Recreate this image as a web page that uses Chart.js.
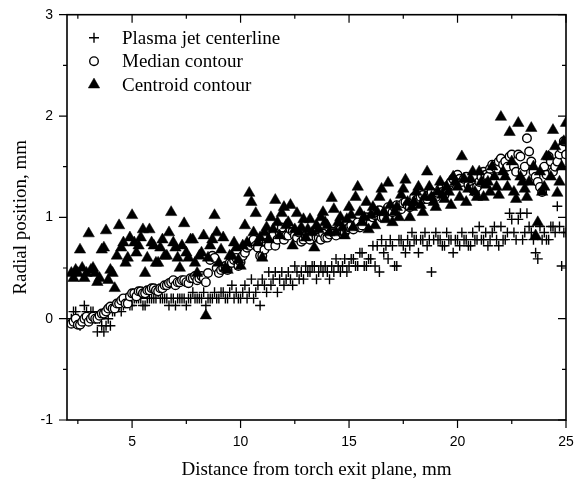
<!DOCTYPE html>
<html>
<head>
<meta charset="utf-8">
<script src="https://cdn.jsdelivr.net/npm/chart.js@4.4.1/dist/chart.umd.min.js"></script>
<style>
  body { margin: 0; background: #fff; }
  #wrap { width: 579px; height: 487px; }
</style>
</head>
<body>
<div id="wrap"><canvas id="radialChart"></canvas></div>
<script>
// distance from torch exit plane, mm
const distance = [
  2.2, 2.3, 2.4, 2.5, 2.6, 2.7, 2.8, 2.9, 3.0, 3.1,
  3.2, 3.3, 3.4, 3.5, 3.6, 3.7, 3.8, 3.9, 4.0, 4.1,
  4.2, 4.3, 4.4, 4.5, 4.6, 4.7, 4.8, 4.9, 5.0, 5.1,
  5.2, 5.3, 5.4, 5.5, 5.6, 5.7, 5.8, 5.9, 6.0, 6.1,
  6.2, 6.3, 6.4, 6.5, 6.6, 6.7, 6.8, 6.9, 7.0, 7.1,
  7.2, 7.3, 7.4, 7.5, 7.6, 7.7, 7.8, 7.9, 8.0, 8.1,
  8.2, 8.3, 8.4, 8.5, 8.6, 8.7, 8.8, 8.9, 9.0, 9.1,
  9.2, 9.3, 9.4, 9.5, 9.6, 9.7, 9.8, 9.9, 10.0, 10.1,
  10.2, 10.3, 10.4, 10.5, 10.6, 10.7, 10.8, 10.9, 11.0, 11.1,
  11.2, 11.3, 11.4, 11.5, 11.6, 11.7, 11.8, 11.9, 12.0, 12.1,
  12.2, 12.3, 12.4, 12.5, 12.6, 12.7, 12.8, 12.9, 13.0, 13.1,
  13.2, 13.3, 13.4, 13.5, 13.6, 13.7, 13.8, 13.9, 14.0, 14.1,
  14.2, 14.3, 14.4, 14.5, 14.6, 14.7, 14.8, 14.9, 15.0, 15.1,
  15.2, 15.3, 15.4, 15.5, 15.6, 15.7, 15.8, 15.9, 16.0, 16.1,
  16.2, 16.3, 16.4, 16.5, 16.6, 16.7, 16.8, 16.9, 17.0, 17.1,
  17.2, 17.3, 17.4, 17.5, 17.6, 17.7, 17.8, 17.9, 18.0, 18.1,
  18.2, 18.3, 18.4, 18.5, 18.6, 18.7, 18.8, 18.9, 19.0, 19.1,
  19.2, 19.3, 19.4, 19.5, 19.6, 19.7, 19.8, 19.9, 20.0, 20.1,
  20.2, 20.3, 20.4, 20.5, 20.6, 20.7, 20.8, 20.9, 21.0, 21.1,
  21.2, 21.3, 21.4, 21.5, 21.6, 21.7, 21.8, 21.9, 22.0, 22.1,
  22.2, 22.3, 22.4, 22.5, 22.6, 22.7, 22.8, 22.9, 23.0, 23.1,
  23.2, 23.3, 23.4, 23.5, 23.6, 23.7, 23.8, 23.9, 24.0, 24.1,
  24.2, 24.3, 24.4, 24.5, 24.6, 24.7, 24.8, 24.9, 25.0
];

// radial position, mm
const centerline = [
  0.0, 0.07, 0.07, 0.0, -0.07, 0.0, 0.13, 0.07, 0.0, 0.07,
  0.07, 0.0, -0.13, 0.0, -0.07, -0.13, -0.07, 0.0, -0.07, 0.07,
  0.07, 0.13, 0.13, 0.07, 0.13, 0.2, 0.2, 0.13, 0.13, 0.2,
  0.2, 0.2, 0.2, 0.13, 0.13, 0.2, 0.2, 0.2, 0.2, 0.2,
  0.26, 0.2, 0.2, 0.2, 0.2, 0.13, 0.2, 0.2, 0.13, 0.2,
  0.2, 0.2, 0.2, 0.13, 0.2, 0.2, 0.26, 0.2, 0.2, 0.2,
  0.2, 0.26, 0.13, 0.2, 0.2, 0.2, 0.26, 0.2, 0.2, 0.26,
  0.26, 0.2, 0.2, 0.26, 0.33, 0.2, 0.26, 0.2, 0.2, 0.26,
  0.33, 0.2, 0.26, 0.39, 0.2, 0.26, 0.33, 0.13, 0.39, 0.33,
  0.26, 0.46, 0.33, 0.39, 0.46, 0.26, 0.39, 0.46, 0.33, 0.39,
  0.46, 0.39, 0.33, 0.52, 0.46, 0.39, 0.46, 0.39, 0.52, 0.46,
  0.46, 0.52, 0.52, 0.39, 0.46, 0.52, 0.46, 0.52, 0.46, 0.39,
  0.52, 0.46, 0.59, 0.52, 0.46, 0.52, 0.59, 0.46, 0.52, 0.59,
  0.59, 0.52, 0.52, 0.65, 0.65, 0.52, 0.52, 0.59, 0.59, 0.72,
  0.52, 0.72, 0.46, 0.78, 0.65, 0.72, 0.59, 0.78, 0.72, 0.52,
  0.52, 0.78, 0.78, 0.72, 0.65, 0.78, 0.72, 0.85, 0.78, 0.78,
  0.65, 0.78, 0.78, 0.85, 0.72, 0.78, 0.46, 0.78, 0.85, 0.78,
  0.78, 0.72, 0.72, 0.85, 0.78, 0.78, 0.65, 0.78, 0.78, 0.72,
  0.85, 0.78, 0.78, 0.72, 0.72, 0.85, 0.78, 0.78, 0.91, 0.78,
  0.78, 0.85, 0.72, 0.78, 0.85, 0.91, 0.78, 0.72, 0.91, 0.78,
  0.78, 0.85, 1.04, 0.98, 0.85, 0.78, 0.98, 1.04, 0.78, 0.85,
  1.04, 0.91, 0.85, 0.78, 0.65, 0.59, 0.91, 0.78, 0.85, 0.78,
  0.78, 0.91, 0.91, 0.85, 1.11, 0.91, 0.52, 0.85, 0.85
];

const median = [
  -0.05, -0.03, 0.0, -0.06, -0.06, -0.03, 0.0, 0.02, -0.03, 0.0,
  0.02, 0.0, 0.0, 0.03, 0.05, 0.05, 0.07, 0.1, 0.12, 0.1,
  0.1, 0.15, 0.15, 0.18, 0.2, 0.15, 0.15, 0.22, 0.25, 0.25,
  0.22, 0.27, 0.27, 0.25, 0.25, 0.28, 0.28, 0.3, 0.3, 0.28,
  0.27, 0.3, 0.3, 0.33, 0.33, 0.35, 0.36, 0.38, 0.33, 0.36,
  0.36, 0.38, 0.38, 0.36, 0.35, 0.4, 0.4, 0.42, 0.38, 0.4,
  0.42, 0.4, 0.36, 0.45, 0.58, 0.62, 0.6, 0.5, 0.45, 0.48,
  0.5, 0.52, 0.48, 0.55, 0.55, 0.58, 0.6, 0.52, 0.56, 0.62,
  0.65, 0.7, 0.72, 0.75, 0.78, 0.72, 0.7, 0.62, 0.62, 0.68,
  0.75, 0.72, 0.8, 0.82, 0.72, 0.78, 0.85, 0.9, 0.78, 0.82,
  0.82, 0.88, 0.86, 0.82, 0.8, 0.85, 0.76, 0.78, 0.82, 0.8,
  0.78, 0.82, 0.85, 0.8, 0.8, 0.78, 0.84, 0.8, 0.8, 0.83,
  0.86, 0.84, 0.82, 0.88, 0.88, 0.84, 0.85, 0.88, 0.9, 0.92,
  0.88, 0.92, 0.95, 0.9, 0.92, 0.98, 1.0, 0.96, 0.95, 1.0,
  1.02, 1.05, 1.07, 1.0, 1.0, 1.05, 1.1, 1.08, 1.05, 1.1,
  1.12, 1.08, 1.08, 1.14, 1.15, 1.12, 1.1, 1.15, 1.2, 1.17,
  1.15, 1.2, 1.22, 1.18, 1.18, 1.22, 1.25, 1.2, 1.2, 1.24,
  1.28, 1.25, 1.22, 1.3, 1.32, 1.35, 1.38, 1.4, 1.42, 1.38,
  1.35, 1.38, 1.4, 1.32, 1.3, 1.28, 1.25, 1.3, 1.35, 1.4,
  1.45, 1.42, 1.4, 1.48, 1.52, 1.5, 1.48, 1.55, 1.58, 1.52,
  1.55, 1.5, 1.6, 1.62, 1.5, 1.45, 1.62, 1.6, 1.45, 1.5,
  1.78, 1.65, 1.55, 1.45, 1.4, 1.35, 1.3, 1.25, 1.5, 1.42,
  1.6, 1.55, 1.45, 1.5, 1.55, 1.62, 1.68, 1.75, 1.62
];

const centroid = [
  0.45, 0.4, 0.48, 0.45, 0.68, 0.5, 0.4, 0.45, 0.84, 0.48,
  0.5, 0.45, 0.36, 0.4, 0.68, 0.7, 0.87, 0.38, 0.48, 0.45,
  0.3, 0.62, 0.92, 0.7, 0.75, 0.55, 0.6, 0.8, 1.02, 0.75,
  0.65, 0.72, 0.8, 0.88, 0.45, 0.6, 0.88, 0.75, 0.72, 0.55,
  0.55, 0.7, 0.78, 0.62, 0.62, 0.85, 1.05, 0.75, 0.7, 0.6,
  0.5, 0.72, 0.94, 0.65, 0.6, 0.78, 0.78, 0.55, 0.45, 0.62,
  0.65, 0.82, 0.03, 0.6, 0.72, 0.78, 1.02, 0.85, 0.55, 0.68,
  0.8, 0.5, 0.48, 0.62, 0.62, 0.75, 0.7, 0.58, 0.52, 0.72,
  0.92, 0.75, 1.24, 1.15, 0.85, 1.04, 0.75, 0.8, 0.6, 0.85,
  0.9, 0.78, 1.0, 0.88, 1.17, 0.95, 0.82, 1.04, 1.1, 0.92,
  0.95, 1.12, 0.72, 0.88, 1.04, 0.85, 0.9, 0.98, 0.8, 0.88,
  0.98, 0.85, 0.7, 0.92, 0.88, 1.0, 1.05, 0.95, 0.92, 0.85,
  1.19, 1.08, 0.85, 0.95, 1.0, 0.9, 0.82, 0.98, 1.1, 1.02,
  0.9, 1.2, 1.3, 1.05, 0.95, 1.0, 1.15, 0.88, 1.02, 1.1,
  0.92, 1.05, 1.2, 1.28, 1.05, 0.98, 1.34, 1.12, 0.95, 1.05,
  1.1, 1.0, 1.22, 1.28, 1.37, 1.15, 1.0, 1.1, 1.15, 1.25,
  1.3, 1.12, 1.05, 1.2, 1.45, 1.3, 1.2, 1.15, 1.1, 1.25,
  1.35, 1.22, 1.18, 1.3, 1.25, 1.12, 1.4, 1.35, 1.3, 1.2,
  1.6, 1.38, 1.15, 1.28, 1.38, 1.45, 1.25, 1.2, 1.45, 1.35,
  1.2, 1.32, 1.35, 1.25, 1.5, 1.4, 1.3, 1.22, 1.99, 1.45,
  1.4, 1.3, 1.84, 1.55, 1.25, 1.18, 1.93, 1.4, 1.35, 1.28,
  1.2, 1.35, 1.88, 1.5, 0.82, 0.95, 1.45, 1.25, 1.3, 1.6,
  1.6, 1.4, 1.86, 1.7, 1.24, 1.35, 1.5, 1.75, 1.93
];

const seriesNames = ['Plasma jet centerline', 'Median contour', 'Centroid contour'];
const xTicks = [5, 10, 15, 20, 25];
const yTicks = [-1, 0, 1, 2, 3];

const serif = "'Liberation Serif', 'Times New Roman', serif";
const sans = "'Liberation Sans', Arial, sans-serif";

function toPoints(ys) {
  return distance.map((x, i) => ({ x: x, y: ys[i] }));
}

// box around the plot with outward ticks on left/bottom, inward on top/right
const frameBox = {
  id: 'frameBox',
  afterDatasetsDraw(chart) {
    const { ctx, chartArea: a } = chart;
    const xs = chart.scales.x, ys = chart.scales.y;
    ctx.save();
    ctx.strokeStyle = '#000';
    ctx.lineWidth = 1.6;
    ctx.strokeRect(a.left, a.top, a.right - a.left, a.bottom - a.top);
    ctx.lineWidth = 1.2;
    ctx.beginPath();
    for (let v = 2.5; v <= 25; v += 2.5) {
      const px = xs.getPixelForValue(v);
      const len = v % 5 === 0 ? 8 : 4;
      ctx.moveTo(px, a.bottom); ctx.lineTo(px, a.bottom + len);
      ctx.moveTo(px, a.top); ctx.lineTo(px, a.top + len);
    }
    for (let v = -1; v <= 3; v += 0.5) {
      const py = ys.getPixelForValue(v);
      const len = v % 1 === 0 ? 8 : 4;
      ctx.moveTo(a.left, py); ctx.lineTo(a.left - len, py);
      ctx.moveTo(a.right, py); ctx.lineTo(a.right - len, py);
    }
    ctx.stroke();
    ctx.restore();
  },
  afterDraw(chart) {
    // legend in the upper left corner of the plot
    const { ctx, chartArea: a } = chart;
    ctx.save();
    ctx.font = '19px ' + serif;
    ctx.textBaseline = 'middle';
    ctx.textAlign = 'left';
    chart.data.datasets.forEach((ds, i) => {
      const y = a.top + 23 + i * 23.5;
      ctx.fillStyle = ds.backgroundColor;
      ctx.strokeStyle = ds.borderColor;
      ctx.lineWidth = ds.borderWidth;
      Chart.helpers.drawPoint(ctx, {
        pointStyle: ds.pointStyle,
        radius: ds.pointRadius,
        borderWidth: ds.borderWidth,
        rotation: 0
      }, a.left + 27, y);
      ctx.fillStyle = '#000';
      ctx.fillText(seriesNames[i], a.left + 55, y + 1);
    });
    ctx.restore();
  }
};

new Chart(document.getElementById('radialChart'), {
  type: 'scatter',
  data: {
    datasets: [{
      label: seriesNames[0],
      data: toPoints(centerline),
      pointStyle: 'cross',
      pointRadius: 5,
      borderWidth: 1.4,
      borderColor: '#000',
      backgroundColor: '#000',
      order: 2
    }, {
      label: seriesNames[1],
      data: toPoints(median),
      pointStyle: 'circle',
      pointRadius: 4.3,
      borderWidth: 1.4,
      borderColor: '#000',
      backgroundColor: '#fff',
      order: 1
    }, {
      label: seriesNames[2],
      data: toPoints(centroid),
      pointStyle: 'triangle',
      pointRadius: 6.6,
      borderWidth: 0.5,
      borderColor: '#000',
      backgroundColor: '#000',
      order: 0
    }]
  },
  options: {
    responsive: true,
    maintainAspectRatio: false,
    animation: false,
    layout: { padding: { top: 14.7, right: 13, left: 0, bottom: 0 } },
    plugins: {
      legend: { display: false },
      tooltip: { enabled: false }
    },
    scales: {
      x: {
        type: 'linear',
        min: 2,
        max: 25,
        afterBuildTicks: (scale) => { scale.ticks = xTicks.map(v => ({ value: v })); },
        afterFit: (scale) => {
          // fixed axis band, no extra room reserved for end labels
          scale.height = 67;
          scale.paddingLeft = 0;
          scale.paddingRight = 0;
        },
        grid: { display: false, drawTicks: false },
        border: { display: false },
        ticks: { color: '#000', font: { family: sans, size: 14 }, padding: 14, maxRotation: 0 },
        title: {
          display: true,
          text: 'Distance from torch exit plane, mm',
          color: '#000',
          font: { family: serif, size: 19 },
          padding: { top: 0, bottom: 6 }
        }
      },
      y: {
        min: -1,
        max: 3,
        afterBuildTicks: (scale) => { scale.ticks = yTicks.map(v => ({ value: v })); },
        afterFit: (scale) => {
          scale.width = 67;
          scale.paddingTop = 0;
          scale.paddingBottom = 0;
        },
        grid: { display: false, drawTicks: false },
        border: { display: false },
        ticks: { color: '#000', font: { family: sans, size: 14 }, padding: 14 },
        title: {
          display: true,
          text: 'Radial position, mm',
          color: '#000',
          font: { family: serif, size: 19 },
          padding: { top: 10, bottom: 0 }
        }
      }
    }
  },
  plugins: [frameBox]
});
</script>
</body>
</html>
